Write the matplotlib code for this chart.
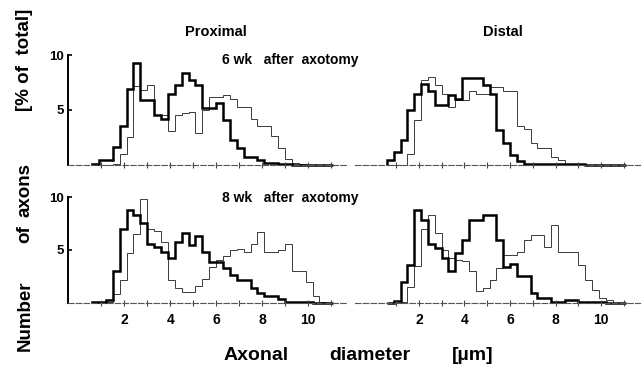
import numpy as np
import matplotlib.pyplot as plt

plt.rcParams['font.family'] = ['Liberation Sans', 'DejaVu Sans']
plt.rcParams['font.weight'] = 'bold'

# histogram bins (axonal diameter, um)
edges = np.round(np.arange(0.6, 11.15, 0.3), 2)

# % of total, proximal / distal, 6 and 8 wk after axotomy
prox_6wk_thick = [0.1, 0.4, 0.4, 1.6, 3.5, 6.9, 9.3, 5.9, 5.9, 4.5, 4.2, 6.5, 7.3, 8.4, 7.7,
                  7.3, 5.2, 5.2, 5.6, 4.1, 2.3, 1.5, 0.75, 0.75, 0.45, 0.2, 0.2, 0.1, 0.1, 0,
                  0, 0, 0, 0, 0]
prox_6wk_thin = [0, 0, 0, 0.1, 1.0, 2.5, 7.2, 6.8, 7.3, 4.5, 4.5, 3.1, 4.5, 4.7, 4.8,
                 2.9, 5.0, 6.2, 6.2, 6.4, 6.0, 5.3, 5.3, 4.2, 3.5, 3.5, 2.6, 1.5, 0.5, 0.2,
                 0.1, 0, 0, 0, 0]
dist_6wk_thick = [0.4, 1.2, 2.3, 5.0, 6.5, 7.4, 6.7, 5.5, 5.5, 6.4, 6.0, 7.9, 7.9, 7.9, 7.3,
                  6.5, 3.2, 2.0, 0.9, 0.3, 0.1, 0.1, 0.1, 0.1, 0.1, 0.1, 0.1, 0.1, 0.1, 0,
                  0, 0, 0, 0, 0]
dist_6wk_thin = [0, 0, 0, 1.0, 4.1, 7.7, 8.0, 7.3, 6.5, 5.3, 5.9, 5.9, 6.7, 6.5, 6.5,
                 7.1, 7.1, 6.7, 6.7, 3.5, 3.3, 2.0, 1.5, 1.5, 0.7, 0.4, 0.1, 0.1, 0.1, 0,
                 0, 0, 0, 0, 0]
prox_8wk_thick = [0.05, 0.05, 0.3, 3.0, 7.0, 8.8, 8.3, 7.6, 5.6, 5.3, 4.8, 4.2, 5.8, 6.6, 5.5,
                  6.3, 4.8, 3.9, 3.9, 3.3, 2.6, 2.2, 2.2, 1.4, 0.9, 0.6, 0.6, 0.4, 0.1, 0.1,
                  0.1, 0.1, 0, 0, 0]
prox_8wk_thin = [0, 0, 0.1, 0.8, 2.2, 4.7, 6.5, 9.8, 7.0, 6.8, 5.8, 2.2, 1.4, 1.0, 1.0,
                 1.6, 2.3, 3.4, 4.1, 4.4, 5.0, 5.1, 4.8, 5.6, 6.7, 4.8, 4.8, 5.0, 5.6, 3.0,
                 3.0, 2.0, 0.6, 0.1, 0]
dist_8wk_thick = [0, 0.2, 2.0, 3.6, 8.8, 7.8, 5.6, 5.2, 4.2, 3.0, 4.7, 5.9, 7.8, 7.8, 8.3,
                  8.3, 5.9, 3.4, 3.7, 2.5, 2.5, 0.9, 0.5, 0.5, 0.1, 0.1, 0.3, 0.3, 0.1, 0.1,
                  0.1, 0.1, 0, 0, 0]
dist_8wk_thin = [0, 0, 0.1, 1.5, 3.5, 7.0, 8.3, 6.6, 5.0, 4.2, 4.1, 4.0, 3.0, 1.1, 1.4,
                 2.2, 3.3, 4.5, 4.5, 4.8, 5.9, 6.4, 6.4, 5.3, 7.4, 4.8, 4.8, 4.8, 3.6, 2.2,
                 1.2, 0.5, 0.3, 0, 0]

W, H = 644, 370
fig = plt.figure(figsize=(W / 100, H / 100), dpi=100)


def px_axes(x0, x1, y_top, y_bot):
    # axes rectangle from pixel coords
    return fig.add_axes([x0 / W, 1 - y_bot / H, (x1 - x0) / W, (y_bot - y_top) / H])


panels = [
    (px_axes(68, 347, 52, 168), prox_6wk_thick, prox_6wk_thin, True, False),
    (px_axes(355, 640, 52, 168), dist_6wk_thick, dist_6wk_thin, False, False),
    (px_axes(68, 347, 194, 306), prox_8wk_thick, prox_8wk_thin, True, True),
    (px_axes(355, 640, 194, 306), dist_8wk_thick, dist_8wk_thin, False, True),
]

for ax, thick, thin, left, bottom in panels:
    xmin = -0.45 if left else -0.8
    ax.set_xlim(xmin, 11.7)
    ax.set_ylim(-0.3, 10.3)
    ax.patch.set_visible(False)

    ax.stairs(thin, edges, color='#3a3a3a', lw=0.7)
    ax.stairs(thick, edges, color='black', lw=1.8)

    for s in ['top', 'right']:
        ax.spines[s].set_visible(False)
    ax.spines['bottom'].set_position(('data', 0))
    ax.spines['bottom'].set_linestyle((0, (5, 2)))
    ax.spines['bottom'].set_color('#555555')
    ax.spines['bottom'].set_linewidth(0.8)

    ax.set_xticks([2, 4, 6, 8, 10])
    ax.set_xticks(range(1, 12), minor=True)
    ax.tick_params(axis='x', which='both', direction='inout', length=4, width=0.8,
                   color='#444444', labelsize=10, pad=5)
    if not bottom:
        ax.tick_params(axis='x', labelbottom=False)

    if left:
        ax.spines['left'].set_bounds(0, 10)
        ax.spines['left'].set_linewidth(1.4)
        ax.set_yticks([5, 10])
        ax.tick_params(axis='y', direction='in', length=3, width=1.2, labelsize=9.5, pad=3)
    else:
        ax.spines['left'].set_visible(False)
        ax.set_yticks([])

    for lab in ax.get_xticklabels() + ax.get_yticklabels():
        lab.set_fontweight('bold')

fig.text(216 / W, 1 - 32 / H, 'Proximal', ha='center', va='center', fontsize=10.5)
fig.text(503 / W, 1 - 32 / H, 'Distal', ha='center', va='center', fontsize=10.5)
fig.text(222 / W, 1 - 60 / H, '6 wk   after  axotomy', ha='left', va='center', fontsize=10)
fig.text(222 / W, 1 - 198 / H, '8 wk   after  axotomy', ha='left', va='center', fontsize=10)

# y axis title, word by word
for word, yc in [('Number', 316), ('of', 234), ('axons', 190), ('[% of  total]', 60)]:
    fig.text(25 / W, 1 - yc / H, word, rotation=90, ha='center', va='center', fontsize=13.5)

# x axis title
for word, xc in [('Axonal', 256), ('diameter', 370), ('[µm]', 473)]:
    fig.text(xc / W, 1 - 356 / H, word, ha='center', va='center', fontsize=14)

fig.savefig('out.png', dpi=100)
